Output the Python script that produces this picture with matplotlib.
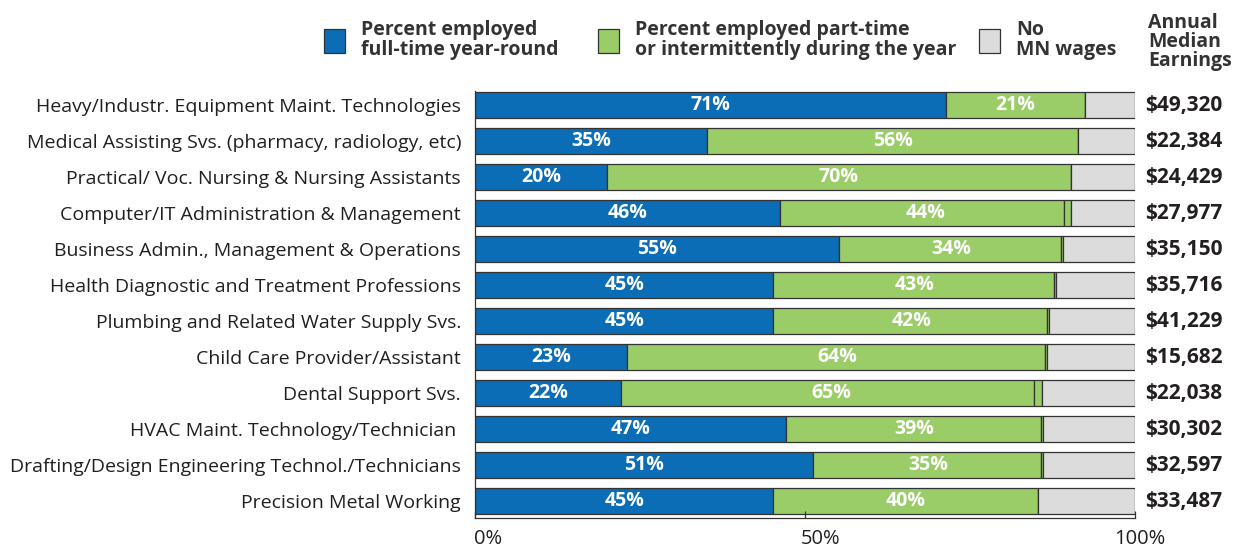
import matplotlib
matplotlib.use("Agg")
import matplotlib.pyplot as plt
from matplotlib.patches import Rectangle
import matplotlib.transforms as mtransforms

categories = [
    "Heavy/Industr. Equipment Maint. Technologies",
    "Medical Assisting Svs. (pharmacy, radiology, etc)",
    "Practical/ Voc. Nursing & Nursing Assistants",
    "Computer/IT Administration & Management",
    "Business Admin., Management & Operations",
    "Health Diagnostic and Treatment Professions",
    "Plumbing and Related Water Supply Svs.",
    "Child Care Provider/Assistant",
    "Dental Support Svs.",
    "HVAC Maint. Technology/Technician ",
    "Drafting/Design Engineering Technol./Technicians",
    "Precision Metal Working",
]
full_time = [71.4, 35.2, 20.0, 46.2, 55.2, 45.2, 45.2, 23.0, 22.1, 47.1, 51.2, 45.2]
part_time = [21.0, 56.2, 70.3, 43.0, 33.6, 42.5, 41.5, 63.3, 62.6, 38.7, 34.6, 40.1]
part_time_extra = [0.0, 0.0, 0.0, 1.1, 0.3, 0.3, 0.3, 0.4, 1.2, 0.3, 0.3, 0.0]
ft_labels = ["71%", "35%", "20%", "46%", "55%", "45%", "45%", "23%", "22%", "47%", "51%", "45%"]
pt_labels = ["21%", "56%", "70%", "44%", "34%", "43%", "42%", "64%", "65%", "39%", "35%", "40%"]
earnings = ["$49,320", "$22,384", "$24,429", "$27,977", "$35,150", "$35,716",
            "$41,229", "$15,682", "$22,038", "$30,302", "$32,597", "$33,487"]
x_ticks = [0, 50, 100]
x_tick_labels = ["0%", "50%", "100%"]
no_wages = [100 - a - b - c for a, b, c in zip(full_time, part_time, part_time_extra)]

BLUE = "#0a6db5"
GREEN = "#9acd67"
GRAY = "#dcdcdc"
EDGE = "#333333"
TEXT = "#231f20"

plt.rcParams['font.family'] = ['Open Sans', 'DejaVu Sans']

W, H = 1241, 552
fig = plt.figure(figsize=(W / 100, H / 100), dpi=100)
left, right = 475 / W, 1135 / W
top, bottom = 1 - 90.6 / H, 1 - 517.6 / H
ax = fig.add_axes([left, bottom, right - left, top - bottom])

y = list(range(len(categories)))
bh = 0.72
lw = 0.9
ax.barh(y, full_time, height=bh, color=BLUE, edgecolor=EDGE, linewidth=lw)
lft2 = [a for a in full_time]
ax.barh(y, part_time, left=lft2, height=bh, color=GREEN, edgecolor=EDGE, linewidth=lw)
lft3 = [a + b for a, b in zip(full_time, part_time)]
ax.barh(y, part_time_extra, left=lft3, height=bh, color=GREEN, edgecolor=EDGE, linewidth=lw)
lft4 = [a + b for a, b in zip(lft3, part_time_extra)]
ax.barh(y, no_wages, left=lft4, height=bh, color=GRAY, edgecolor=EDGE, linewidth=lw)

for i in y:
    ax.text(full_time[i] / 2, i, ft_labels[i], color="white", fontsize=14, fontweight="bold",
            ha="center", va="center")
    gtot = part_time[i] + part_time_extra[i]
    ax.text(full_time[i] + gtot / 2, i, pt_labels[i], color="white", fontsize=14,
            fontweight="bold", ha="center", va="center")
    ax.text(101.5, i, earnings[i], color=TEXT, fontsize=15, fontweight="bold",
            ha="left", va="center", clip_on=False)

ax.set_xlim(0, 100)
ax.set_ylim(11.46, -0.4)
ax.set_yticks(y)
ax.set_yticklabels(categories, fontsize=14, color=TEXT)
ax.tick_params(axis="y", length=0, pad=10)
ax.set_xticks(x_ticks)
ax.set_xticklabels(x_tick_labels, fontsize=14.5, color=TEXT)
ax.tick_params(axis="x", direction="in", length=5, width=0.9, color=EDGE, pad=8)
for lab, dx in zip(ax.get_xticklabels(), [13, 16, 5]):
    lab.set_transform(lab.get_transform() + mtransforms.ScaledTranslation(dx / 100, 0, fig.dpi_scale_trans))
for s in ["top", "right"]:
    ax.spines[s].set_visible(False)
ax.spines["left"].set_color(EDGE)
ax.spines["bottom"].set_color(EDGE)
ax.spines["left"].set_linewidth(0.9)
ax.spines["bottom"].set_linewidth(0.9)

# Legend
def legend_item(x_px, color, text):
    fig.patches.append(Rectangle((x_px / W, 1 - 53 / H), 21 / W, 24 / H, transform=fig.transFigure,
                                 facecolor=color, edgecolor=EDGE, linewidth=0.9))
    fig.text((x_px + 37) / W, 1 - 40 / H, text, fontsize=14, fontweight="bold", color="#333333",
             ha="left", va="center", linespacing=0.95)

legend_item(324, BLUE, "Percent employed\nfull-time year-round")
legend_item(598, GREEN, "Percent employed part-time\nor intermittently during the year")
legend_item(979, GRAY, "No\nMN wages")
fig.text(1148 / W, 1 - 42 / H, "Annual\nMedian\nEarnings", fontsize=14, fontweight="bold",
         color="#333333", ha="left", va="center", linespacing=0.95)

fig.savefig("out.png", dpi=100)
